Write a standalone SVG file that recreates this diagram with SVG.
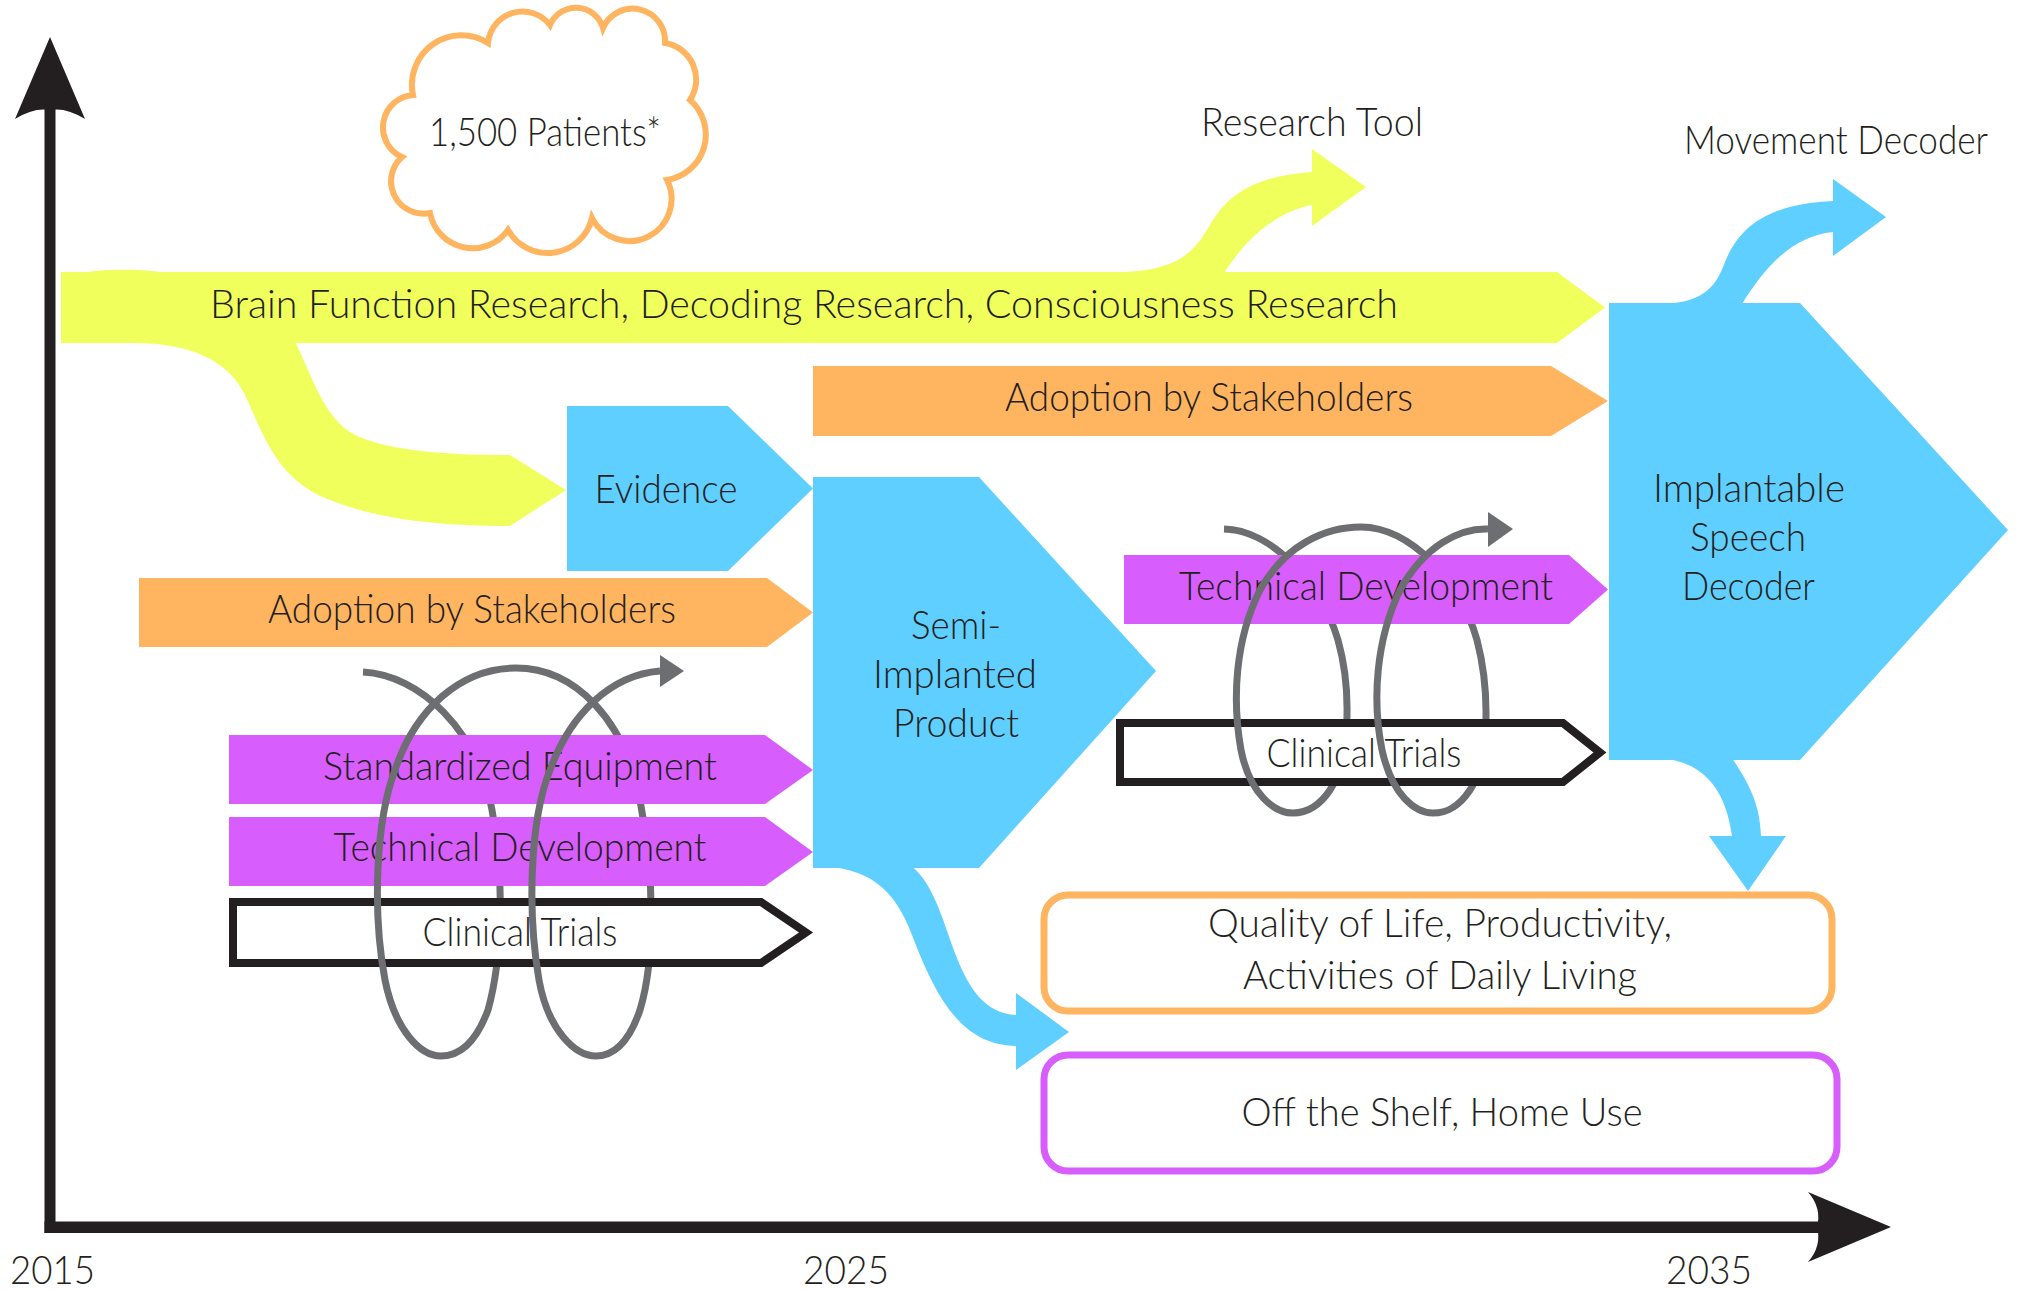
<svg xmlns="http://www.w3.org/2000/svg" width="2020" height="1290" viewBox="0 0 2020 1290">
<style>
text{font-family:"Lato","Open Sans","Liberation Sans",sans-serif;font-weight:300;fill:#231f20;font-size:39px;text-anchor:middle}
.yel{fill:#f1ff5c}
.blu{fill:#5fcfff}
.org{fill:#ffb45f}
.pur{fill:#d75dfc}
.ct{fill:#fff;stroke:#231f20;stroke-width:8;stroke-miterlimit:10}
.coil{fill:none;stroke:#6d6e71;stroke-width:7;stroke-linecap:butt}
.ax{fill:#231f20}
</style>
<g id="axes">
<rect class="ax" x="44.5" y="108" width="11" height="1125"/>
<rect class="ax" x="44.5" y="1221.5" width="1774" height="11.5"/>
<path class="ax" d="M50,37 L85,119 Q66,107 50,110 Q34,107 15,119 Z"/>
<path class="ax" d="M1891,1227 L1808,1262 Q1822,1246 1817,1227 Q1822,1208 1808,1192 Z"/>
<text x="52.5" y="1284" font-size="43" textLength="85" lengthAdjust="spacingAndGlyphs">2015</text>
<text x="846" y="1284" font-size="43" textLength="86" lengthAdjust="spacingAndGlyphs">2025</text>
<text x="1709" y="1284" font-size="43" textLength="86" lengthAdjust="spacingAndGlyphs">2035</text>
</g>
<g id="research-band">
<path class="yel" d="M61,272 L87,272 C105,269 140,269 160,272 L1557,272 L1605,307.5 L1557,343 L61,343 Z"/>
<text x="804" y="318" textLength="1188" lengthAdjust="spacingAndGlyphs">Brain Function Research, Decoding Research, Consciousness Research</text>
</g>
<g id="cloud">
<path d="M413,95 A49.5,49.5 0 0 1 488,43 A34.7,34.7 0 0 1 550,25 A28.2,28.2 0 0 1 603,28 A32.4,32.4 0 0 1 665,43 A37,37 0 0 1 690,100 A45.9,45.9 0 0 1 667,180 A42,42 0 0 1 592,218 A45.6,45.6 0 0 1 508,230 A43.4,43.4 0 0 1 430,213 A32.4,32.4 0 0 1 402,157 A32.5,32.5 0 0 1 413,95 Z" fill="#fff" stroke="#ffb45f" stroke-width="6"/>
<text x="545" y="146" font-size="35" textLength="232" lengthAdjust="spacingAndGlyphs">1,500 Patients*</text>
</g>
<g id="connectors">
<path class="yel" d="M133,343 C190,343 228,360 245,395 C262,430 275,480 330,500 C380,520 440,526 510,526 L566,490 L510,455 C440,455 380,450 350,432 C325,415 315,385 296,343 Z"/>
<path class="yel" d="M1115,272 C1180,272 1195,250 1210,225 C1230,190 1260,176 1312,172 L1312,149 L1366,187 L1312,226 L1312,205 C1275,212 1245,240 1224,273 Z"/>
<path class="blu" d="M1656,304 C1700,304 1715,290 1725,262 C1740,225 1770,204 1833,201 L1833,179 L1886,217 L1833,256 L1833,232 C1795,236 1768,262 1742,304 Z"/>
<path class="blu" d="M1657,758 C1700,760 1725,785 1732,836 L1709,836 L1748,891 L1786,836 L1761,836 C1760,805 1750,785 1732,758 Z"/>
<path class="blu" d="M813,866 C870,866 895,890 912,935 C935,995 960,1045 1016,1046 L1016,1070 L1069,1032 L1016,993 L1016,1015 C985,1013 968,990 952,945 C940,910 930,880 911,866 Z"/>
</g>
<g id="research-tool"><text x="1312" y="136" textLength="222" lengthAdjust="spacingAndGlyphs">Research Tool</text></g>
<g id="movement-decoder"><text x="1836" y="154" font-size="36" textLength="304" lengthAdjust="spacingAndGlyphs">Movement Decoder</text></g>
<g id="evidence">
<path class="blu" d="M567,406 H728 L813,488.5 L728,571 H567 Z"/>
<text x="666" y="503" textLength="143" lengthAdjust="spacingAndGlyphs">Evidence</text>
</g>
<g id="semi-implanted">
<path class="blu" d="M813,477 H979 L1156,671 L979,868 H813 Z"/>
<text x="956" y="639" textLength="90" lengthAdjust="spacingAndGlyphs">Semi-</text>
<text x="955" y="688" textLength="164" lengthAdjust="spacingAndGlyphs">Implanted</text>
<text x="956" y="737" textLength="126" lengthAdjust="spacingAndGlyphs">Product</text>
</g>
<g id="implantable">
<path class="blu" d="M1609,303 H1800 L2008,530 L1800,760 H1609 Z"/>
<text x="1749" y="502" textLength="192" lengthAdjust="spacingAndGlyphs">Implantable</text>
<text x="1748" y="551" textLength="116" lengthAdjust="spacingAndGlyphs">Speech</text>
<text x="1748.5" y="600" textLength="133" lengthAdjust="spacingAndGlyphs">Decoder</text>
</g>
<g id="adoption-1">
<path class="org" d="M139,578 H767 L813,612.5 L767,647 H139 Z"/>
<text x="472" y="623" textLength="408" lengthAdjust="spacingAndGlyphs">Adoption by Stakeholders</text>
</g>
<g id="adoption-2">
<path class="org" d="M813,366 H1551 L1608,401 L1551,436 H813 Z"/>
<text x="1209" y="411" textLength="408" lengthAdjust="spacingAndGlyphs">Adoption by Stakeholders</text>
</g>
<g id="connectors-loops-back">
<path class="coil" d="M363,672 C420,675 478,730 492,810 C505,880 502,960 488,1010 C475,1045 458,1056 441,1056 M516,668 C575,668 625,720 640,800 C655,880 655,960 640,1010 C628,1045 612,1056 596,1056"/>
<path class="coil" d="M1224,529 C1270,530 1320,580 1338,640 C1352,690 1350,760 1330,790 C1318,808 1305,813 1293,813 M1361,527 C1410,527 1460,580 1477,640 C1490,690 1490,760 1470,790 C1458,808 1446,813 1433,813"/>
</g>
<g id="standardized-equipment">
<path class="pur" d="M229,735 H765 L813,770 L765,804 H229 Z"/>
<text x="520" y="780" textLength="394" lengthAdjust="spacingAndGlyphs">Standardized Equipment</text>
</g>
<g id="technical-development-1">
<path class="pur" d="M229,817 H765 L813,852 L765,886 H229 Z"/>
<text x="520" y="861" textLength="373" lengthAdjust="spacingAndGlyphs">Technical Development</text>
</g>
<g id="clinical-trials-1">
<path class="ct" d="M233,902 H761 L806,932.5 L761,963 H233 Z"/>
<text x="520" y="946" font-size="37" textLength="195" lengthAdjust="spacingAndGlyphs">Clinical Trials</text>
</g>
<g id="technical-development-2">
<path class="pur" d="M1124,555 H1569 L1608,589.5 L1569,624 H1124 Z"/>
<text x="1366" y="600" textLength="374" lengthAdjust="spacingAndGlyphs">Technical Development</text>
</g>
<g id="clinical-trials-2">
<path class="ct" d="M1120,723 H1563 L1600,752.5 L1563,782 H1120 Z"/>
<text x="1364" y="767" font-size="37" textLength="195" lengthAdjust="spacingAndGlyphs">Clinical Trials</text>
</g>
<g id="connectors-loops-front">
<path class="coil" d="M441,1056 C420,1056 395,1030 385,980 C372,910 376,820 395,770 C415,710 460,668 516,668 M596,1056 C575,1056 548,1030 539,980 C527,910 530,820 550,770 C570,715 610,675 660,671"/>
<path fill="#6d6e71" d="M660,655 L684,671 L660,687 Z"/>
<path class="coil" d="M1293,813 C1275,813 1250,795 1241,750 C1232,700 1235,640 1260,590 C1285,545 1325,527 1361,527 M1433,813 C1415,813 1392,795 1382,750 C1372,700 1376,640 1400,590 C1425,545 1460,528 1488,529"/>
<path fill="#6d6e71" d="M1488,512 L1513,529 L1488,547 Z"/>
</g>
<g id="quality-of-life">
<rect x="1044" y="895" width="788" height="116" rx="24" fill="#fff" stroke="#ffb45f" stroke-width="7"/>
<text x="1440" y="937" textLength="464" lengthAdjust="spacingAndGlyphs">Quality of Life, Productivity,</text>
<text x="1440" y="989" textLength="394" lengthAdjust="spacingAndGlyphs">Activities of Daily Living</text>
</g>
<g id="off-the-shelf">
<rect x="1044" y="1055" width="793" height="116" rx="24" fill="#fff" stroke="#d75dfc" stroke-width="7"/>
<text x="1442" y="1126" textLength="401" lengthAdjust="spacingAndGlyphs">Off the Shelf, Home Use</text>
</g>
</svg>
